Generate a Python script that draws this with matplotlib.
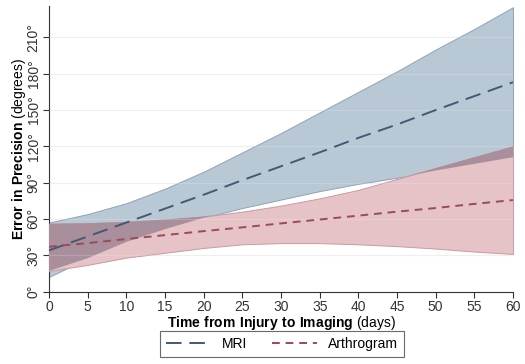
import numpy as np
import matplotlib
matplotlib.use("Agg")
import matplotlib.pyplot as plt

plt.rcParams['font.family'] = ['Liberation Sans', 'DejaVu Sans']
plt.rcParams['mathtext.fontset'] = 'custom'
plt.rcParams['mathtext.rm'] = 'Liberation Sans'
plt.rcParams['mathtext.bf'] = 'Liberation Sans:bold'

days = [0, 5, 10, 15, 20, 25, 30, 35, 40, 45, 50, 55, 60]
mri_mean = [34, 45.5, 57, 68.5, 80, 92, 103.5, 115, 127, 138, 150, 161.5, 173]
mri_upper = [57, 64, 73, 85, 99, 115, 131, 148, 165, 182, 200, 217, 235]
mri_lower = [12, 27.5, 41, 51.5, 61, 69, 76, 83, 89, 94, 100, 105.5, 111]
arth_mean = [37, 40, 43.4, 46.6, 49.9, 53, 56.3, 59.5, 62.7, 66, 69, 72.4, 75.6]
arth_upper = [56, 56.5, 57.5, 59.5, 62, 66, 71, 77, 84, 93, 102, 111, 120]
arth_lower = [17, 22, 28, 32, 36, 39, 40, 40, 39, 37.5, 35.5, 33, 31]
yticks = [0, 30, 60, 90, 120, 150, 180, 210]
xticks = [0, 5, 10, 15, 20, 25, 30, 35, 40, 45, 50, 55, 60]

fig = plt.figure(figsize=(5.25, 3.64), dpi=100)
ax = fig.add_axes([49/525, 72.5/364, 464/525, 285.5/364])

for t in yticks[1:]:
    ax.axhline(t, color='#ececec', lw=0.8, zorder=1)

x = np.array(days, dtype=float)
mlo, mhi = np.array(mri_lower), np.array(mri_upper)
alo, ahi = np.array(arth_lower), np.array(arth_upper)

ax.fill_between(x, mlo, mhi, color='#b9c8d5', edgecolor='#8ea3b6', linewidth=0.7, zorder=2)
ax.fill_between(x, alo, ahi, color='#e5c3c7', edgecolor='#c99aa1', linewidth=0.7, zorder=3)
olo = np.maximum(mlo, alo)
ohi = np.minimum(mhi, ahi)
ax.fill_between(x, olo, ohi, where=ohi >= olo, interpolate=True,
                color='#a98f9b', linewidth=0, zorder=3.5)

for t in yticks[1:]:
    ax.axhline(t, color='#ffffff', lw=0.8, alpha=0.18, zorder=3.7)

ax.plot(days, mri_mean, color='#435a75', lw=1.4, dashes=(8, 4), zorder=4, label='MRI')
ax.plot(days, arth_mean, color='#9a4a5a', lw=1.4, dashes=(4, 3), zorder=4, label='Arthrogram')

ax.set_xlim(0, 60)
ax.set_ylim(0, 236)
ax.set_xticks(xticks)
ax.set_xticklabels([str(t) for t in xticks], fontsize=10)
ax.set_yticks(yticks)
ax.set_yticklabels([f"{t}°" for t in yticks], fontsize=10, rotation=90, va='center')
ax.spines['top'].set_visible(False)
ax.spines['right'].set_visible(False)
ax.spines['left'].set_color('#333333')
ax.spines['bottom'].set_color('#333333')
ax.tick_params(direction='out', length=4, width=0.8, colors='#333333', pad=2)

ax.set_xlabel(r"$\bf{Time\ from\ Injury\ to\ Imaging}$ (days)", fontsize=10, labelpad=0)
ax.set_ylabel(r"$\bf{Error\ in\ Precision}$ (degrees)", fontsize=10, labelpad=-1)

leg = fig.legend(loc='center', bbox_to_anchor=(282/525, 1 - 344/364), ncol=2,
                 fontsize=10, frameon=True, fancybox=False, edgecolor='#444444',
                 handlelength=3.2, columnspacing=1.8, borderpad=0.45)
leg.get_frame().set_linewidth(0.8)

fig.savefig('out.png', dpi=100)
